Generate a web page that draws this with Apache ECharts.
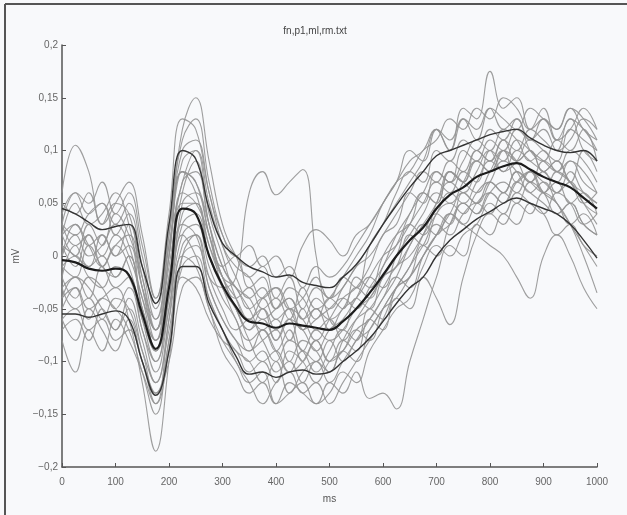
<!DOCTYPE html>
<html>
<head>
<meta charset="utf-8">
<script src="https://cdn.jsdelivr.net/npm/echarts@6/dist/echarts.min.js"></script>
<style>
html,body{margin:0;padding:0;background:#f8f9fb;}
#chart{width:627px;height:515px;}
</style>
</head>
<body>
<div id="chart"></div>
<script>
const chartTitle = 'fn,p1,ml,rm.txt';
const xName = 'ms';
const yName = 'mV';
const times = [0,25,50,75,100,125,150,175,200,225,250,275,300,325,350,375,400,425,450,475,500,525,550,575,600,625,650,675,700,725,750,775,800,825,850,875,900,925,950,975,1000];
const xTickLabels = ['0','100','200','300','400','500','600','700','800','900','1000'];
const yTickValues = [-0.2,-0.15,-0.1,-0.05,0,0.05,0.1,0.15,0.2];
const yTickLabels = ['\u22120,2','\u22120,15','\u22120,1','\u22120,05','0','0,05','0,1','0,15','0,2'];

const meanTrace = [-0.004,-0.006,-0.012,-0.014,-0.012,-0.018,-0.055,-0.088,-0.03,0.045,0.04,0.0,-0.028,-0.048,-0.062,-0.064,-0.068,-0.064,-0.066,-0.068,-0.07,-0.062,-0.05,-0.035,-0.018,0.0,0.015,0.027,0.045,0.058,0.065,0.075,0.08,0.085,0.088,0.082,0.075,0.07,0.065,0.055,0.045];
const upperTrace = [0.045,0.04,0.032,0.025,0.028,0.03,-0.01,-0.045,0.03,0.1,0.092,0.045,0.012,0.0,-0.01,-0.015,-0.02,-0.018,-0.025,-0.028,-0.03,-0.02,-0.008,0.01,0.03,0.048,0.065,0.08,0.095,0.1,0.105,0.11,0.115,0.118,0.12,0.112,0.105,0.1,0.098,0.1,0.09];
const lowerTrace = [-0.055,-0.055,-0.058,-0.055,-0.052,-0.06,-0.1,-0.132,-0.09,-0.01,-0.01,-0.045,-0.07,-0.095,-0.112,-0.11,-0.115,-0.11,-0.108,-0.112,-0.11,-0.1,-0.09,-0.078,-0.062,-0.045,-0.03,-0.02,0.0,0.015,0.025,0.035,0.042,0.05,0.055,0.05,0.045,0.04,0.03,0.015,-0.002];

const trial01 = [0.06,0.105,0.08,0.03,0.05,0.04,-0.02,-0.07,-0.01,0.07,0.08,0.03,-0.01,0.0,-0.03,-0.02,-0.05,-0.03,-0.04,-0.06,-0.04,-0.05,-0.02,-0.03,0.0,0.02,0.03,0.06,0.05,0.08,0.07,0.1,0.09,0.11,0.09,0.1,0.08,0.09,0.07,0.1,0.08];
const trial02 = [0.02,0.05,0.03,0.04,0.06,0.03,-0.03,-0.06,0.02,0.12,0.15,0.09,0.03,0.0,-0.02,-0.01,-0.04,-0.02,-0.05,-0.03,-0.04,-0.02,-0.03,0.01,0.03,0.05,0.07,0.09,0.12,0.1,0.13,0.11,0.14,0.12,0.13,0.11,0.12,0.1,0.13,0.12,0.1];
const trial03 = [-0.02,0.01,-0.01,0.0,-0.02,0.0,-0.05,-0.08,-0.03,0.03,0.02,-0.02,-0.03,-0.02,0.06,0.08,0.058,0.07,0.082,0.0,-0.06,-0.07,-0.04,-0.05,-0.02,-0.01,0.02,0.01,0.04,0.05,0.04,0.06,0.07,0.06,0.08,0.07,0.06,0.08,0.07,0.05,0.06];
const trial04 = [0.05,0.04,0.06,0.03,0.05,0.07,0.02,-0.04,0.04,0.13,0.12,0.06,0.02,0.0,0.01,-0.01,0.0,-0.02,0.01,0.025,0.015,0.0,0.02,0.03,0.05,0.07,0.09,0.1,0.12,0.11,0.13,0.12,0.14,0.13,0.12,0.14,0.13,0.12,0.14,0.13,0.11];
const trial05 = [-0.04,-0.03,-0.05,-0.04,-0.03,-0.06,-0.12,-0.185,-0.1,0.0,0.02,-0.03,-0.06,-0.08,-0.1,-0.09,-0.11,-0.1,-0.12,-0.1,-0.11,-0.09,-0.1,-0.07,-0.05,-0.03,-0.02,0.0,0.02,0.04,0.03,0.05,0.06,0.05,0.07,0.06,0.05,0.04,0.05,0.03,0.02];
const trial06 = [0.0,0.02,0.0,0.01,0.03,0.01,-0.04,-0.07,0.0,0.08,0.07,0.02,-0.02,-0.04,-0.03,-0.05,-0.04,-0.06,-0.03,-0.05,-0.04,-0.02,0.0,0.02,0.05,0.07,0.1,0.09,0.12,0.1,0.14,0.13,0.175,0.14,0.15,0.12,0.14,0.11,0.13,0.1,0.09];
const trial07 = [-0.06,-0.05,-0.07,-0.06,-0.08,-0.07,-0.1,-0.13,-0.08,0.0,-0.01,-0.05,-0.08,-0.1,-0.12,-0.11,-0.14,-0.12,-0.13,-0.14,-0.12,-0.13,-0.11,-0.135,-0.13,-0.145,-0.1,-0.06,-0.02,0.01,0.0,0.03,0.02,0.04,0.03,0.05,0.04,0.02,0.03,0.01,0.0];
const trial08 = [-0.03,-0.02,-0.04,-0.01,-0.03,-0.02,-0.07,-0.1,-0.04,0.03,0.04,0.0,-0.03,-0.06,-0.08,-0.07,-0.09,-0.07,-0.1,-0.08,-0.1,-0.08,-0.09,-0.06,-0.07,-0.04,-0.05,-0.02,-0.04,-0.065,-0.02,0.02,0.04,0.03,0.05,0.04,0.06,0.05,0.03,0.04,0.02];
const trial09 = [-0.01,0.0,-0.02,-0.03,-0.01,-0.02,-0.06,-0.09,-0.03,0.05,0.05,0.01,-0.02,-0.05,-0.07,-0.06,-0.08,-0.06,-0.09,-0.07,-0.08,-0.07,-0.05,-0.04,-0.02,-0.01,0.01,0.03,0.02,0.04,0.03,0.02,0.01,0.0,-0.02,-0.04,0.0,0.02,0.0,-0.03,-0.05];
const trial10 = [0.02,0.03,0.01,0.02,0.0,0.01,-0.05,-0.08,0.0,0.08,0.06,0.01,-0.02,-0.03,-0.05,-0.04,-0.06,-0.05,-0.07,-0.06,-0.05,-0.04,-0.05,-0.03,-0.01,0.02,0.04,0.06,0.05,0.08,0.07,0.09,0.08,0.1,0.07,0.08,0.06,0.05,0.03,0.0,-0.035];
const trial11 = [-0.08,-0.11,-0.07,-0.09,-0.06,-0.08,-0.11,-0.14,-0.09,-0.02,-0.03,-0.06,-0.08,-0.09,-0.11,-0.1,-0.12,-0.09,-0.1,-0.12,-0.1,-0.09,-0.07,-0.08,-0.05,-0.03,-0.01,0.01,0.03,0.02,0.04,0.05,0.04,0.06,0.05,0.07,0.06,0.04,0.05,0.03,0.02];
const trial12 = [0.03,0.06,0.04,0.05,0.03,0.05,0.0,-0.05,0.02,0.1,0.11,0.06,0.01,-0.02,-0.04,-0.03,-0.05,-0.04,-0.06,-0.04,-0.05,-0.03,-0.01,0.01,0.03,0.06,0.08,0.07,0.1,0.09,0.11,0.1,0.12,0.11,0.13,0.1,0.09,0.11,0.1,0.12,0.09];
const trial13 = [-0.02,-0.04,-0.02,-0.03,-0.05,-0.03,-0.07,-0.11,-0.05,0.02,0.03,-0.01,-0.04,-0.06,-0.09,-0.08,-0.07,-0.1,-0.08,-0.09,-0.11,-0.08,-0.06,-0.05,-0.03,-0.01,0.0,0.02,0.04,0.06,0.05,0.07,0.09,0.08,0.1,0.09,0.08,0.07,0.09,0.08,0.06];
const trial14 = [0.01,-0.01,0.02,0.0,0.02,0.0,-0.04,-0.09,-0.02,0.06,0.09,0.03,-0.01,-0.03,-0.05,-0.07,-0.06,-0.08,-0.05,-0.07,-0.06,-0.08,-0.06,-0.04,-0.02,0.0,0.03,0.02,0.05,0.07,0.06,0.08,0.1,0.09,0.11,0.1,0.09,0.08,0.1,0.09,0.07];
const trial15 = [-0.05,-0.03,-0.06,-0.04,-0.05,-0.07,-0.11,-0.15,-0.08,-0.01,0.0,-0.04,-0.07,-0.09,-0.1,-0.12,-0.1,-0.13,-0.11,-0.1,-0.12,-0.1,-0.08,-0.06,-0.04,-0.02,-0.03,0.0,0.02,0.03,0.05,0.04,0.06,0.05,0.07,0.08,0.06,0.07,0.05,0.06,0.04];
const trial16 = [0.03,0.02,0.04,0.05,0.02,0.04,-0.01,-0.06,0.01,0.09,0.1,0.05,0.01,-0.01,-0.02,-0.04,-0.03,-0.05,-0.04,-0.02,-0.04,-0.03,-0.01,0.0,0.02,0.04,0.06,0.08,0.07,0.09,0.08,0.1,0.09,0.11,0.1,0.12,0.11,0.1,0.11,0.13,0.12];
const trial17 = [-0.03,-0.05,-0.04,-0.06,-0.04,-0.05,-0.09,-0.12,-0.06,0.01,0.02,-0.02,-0.05,-0.07,-0.06,-0.08,-0.1,-0.08,-0.09,-0.11,-0.09,-0.07,-0.08,-0.05,-0.06,-0.03,-0.02,0.01,0.0,0.03,0.05,0.04,0.06,0.07,0.06,0.08,0.07,0.06,0.08,0.06,0.05];
const trial18 = [0.0,0.03,0.01,-0.01,0.01,-0.01,-0.06,-0.1,-0.04,0.04,0.05,0.0,-0.03,-0.05,-0.07,-0.05,-0.08,-0.06,-0.07,-0.09,-0.07,-0.06,-0.04,-0.02,-0.03,0.0,0.02,0.04,0.06,0.05,0.07,0.09,0.08,0.1,0.09,0.07,0.08,0.06,0.07,0.05,0.04];
const trial19 = [-0.01,-0.02,0.01,-0.01,-0.02,0.0,-0.05,-0.09,-0.05,0.05,0.06,0.02,-0.03,-0.05,-0.08,-0.1,-0.09,-0.11,-0.1,-0.08,-0.1,-0.09,-0.07,-0.06,-0.04,-0.02,0.01,0.03,0.05,0.08,0.07,0.06,0.08,0.1,0.09,0.1,0.08,0.09,0.07,0.06,0.05];
const trial20 = [0.04,0.06,0.05,0.07,0.04,0.06,0.01,-0.04,0.03,0.11,0.13,0.07,0.02,0.0,-0.01,0.0,-0.02,-0.01,-0.03,-0.01,-0.02,-0.01,0.01,0.03,0.05,0.07,0.08,0.1,0.11,0.13,0.12,0.14,0.13,0.15,0.14,0.12,0.13,0.11,0.12,0.14,0.12];
const trial21 = [-0.07,-0.06,-0.08,-0.05,-0.07,-0.05,-0.09,-0.13,-0.1,-0.03,-0.02,-0.05,-0.09,-0.11,-0.13,-0.12,-0.14,-0.13,-0.12,-0.14,-0.13,-0.11,-0.12,-0.09,-0.07,-0.05,-0.04,-0.01,0.01,0.0,0.02,0.03,0.05,0.04,0.06,0.05,0.04,0.06,0.05,0.03,0.04];
const trial22 = [0.01,0.0,-0.01,0.02,0.0,0.03,-0.03,-0.08,0.0,0.08,0.07,0.03,-0.01,-0.03,-0.04,-0.06,-0.05,-0.04,-0.06,-0.05,-0.07,-0.05,-0.04,-0.02,0.0,0.01,0.03,0.05,0.07,0.06,0.08,0.07,0.1,0.08,0.09,0.11,0.1,0.09,0.12,0.11,0.1];
const trial23 = [-0.04,-0.02,-0.03,-0.05,-0.07,-0.04,-0.08,-0.12,-0.07,0.0,0.01,-0.03,-0.06,-0.08,-0.09,-0.07,-0.09,-0.11,-0.09,-0.1,-0.08,-0.1,-0.08,-0.07,-0.05,-0.04,-0.02,0.0,0.02,0.04,0.06,0.05,0.07,0.06,0.08,0.07,0.09,0.08,0.07,0.05,0.03];
const trial24 = [0.02,0.0,0.03,0.01,0.04,0.02,-0.02,-0.07,0.01,0.07,0.1,0.04,0.0,-0.04,-0.06,-0.05,-0.07,-0.05,-0.06,-0.08,-0.06,-0.04,-0.03,-0.01,0.02,0.03,0.06,0.05,0.08,0.07,0.09,0.11,0.1,0.12,0.11,0.09,0.1,0.08,0.09,0.07,0.06];
const trial25 = [-0.06,-0.08,-0.05,-0.07,-0.09,-0.06,-0.1,-0.14,-0.06,0.02,0.0,-0.04,-0.07,-0.1,-0.12,-0.14,-0.12,-0.11,-0.13,-0.12,-0.14,-0.12,-0.1,-0.08,-0.06,-0.03,-0.01,0.02,0.04,0.03,0.06,0.05,0.07,0.09,0.08,0.06,0.07,0.05,0.03,0.01,-0.01];
const trial26 = [0.03,0.01,0.02,-0.01,0.01,0.02,-0.03,-0.07,-0.02,0.06,0.05,0.02,-0.02,-0.04,-0.06,-0.04,-0.03,-0.05,-0.07,-0.05,-0.06,-0.05,-0.03,-0.04,-0.01,0.01,0.04,0.06,0.08,0.07,0.1,0.09,0.11,0.1,0.12,0.11,0.13,0.12,0.14,0.12,0.11];

const trials = [trial01,trial02,trial03,trial04,trial05,trial06,trial07,trial08,trial09,trial10,trial11,trial12,trial13,trial14,trial15,trial16,trial17,trial18,trial19,trial20,trial21,trial22,trial23,trial24,trial25,trial26];

const toPairs = arr => times.map((t, i) => [t, arr[i]]);
const FONT = 'Liberation Sans';

const series = [];
trials.forEach((tr) => {
  series.push({
    type: 'line', data: toPairs(tr), smooth: 0.45, symbol: 'none', silent: true,
    lineStyle: { color: '#949494', width: 1.1, opacity: 0.9 }, z: 2
  });
});
[[upperTrace, 1.4, '#333333'], [lowerTrace, 1.4, '#333333'], [meanTrace, 2.2, '#1c1c1c']].forEach(([arr, w, c]) => {
  series.push({
    type: 'line', data: toPairs(arr), smooth: 0.45, symbol: 'none', silent: true,
    lineStyle: { color: c, width: w }, z: 5
  });
});

const chart = echarts.init(document.getElementById('chart'), null, { renderer: 'canvas' });
chart.setOption({
  backgroundColor: '#f8f9fb',
  animation: false,
  title: {
    text: chartTitle, left: 310, top: 21, textAlign: 'center',
    textStyle: { fontFamily: FONT, fontSize: 10, fontWeight: 'normal', color: '#444' }
  },
  grid: { left: 62, right: 30, top: 45, bottom: 48 },
  xAxis: {
    type: 'value', min: 0, max: 1000, interval: 100,
    name: xName, nameLocation: 'middle', nameGap: 27,
    nameTextStyle: { fontFamily: FONT, fontSize: 10, color: '#555' },
    axisLine: { onZero: false, lineStyle: { color: '#555', width: 1.5 } },
    axisTick: { inside: true, length: 4, lineStyle: { color: '#555' } },
    axisLabel: {
      fontFamily: FONT, fontSize: 10, color: '#666', margin: 10,
      formatter: v => xTickLabels[Math.round(v / 100)] || ''
    },
    splitLine: { show: false }
  },
  yAxis: {
    type: 'value', min: -0.2, max: 0.2, interval: 0.05,
    name: yName, nameLocation: 'middle', nameGap: 41, nameRotate: 90,
    nameTextStyle: { fontFamily: FONT, fontSize: 10, color: '#555' },
    axisLine: { onZero: false, lineStyle: { color: '#555', width: 1.5 } },
    axisTick: { inside: true, length: 4, lineStyle: { color: '#555' } },
    axisLabel: {
      fontFamily: FONT, fontSize: 10, color: '#666', margin: 4,
      formatter: v => {
        const i = yTickValues.findIndex(t => Math.abs(t - v) < 1e-9);
        return i >= 0 ? yTickLabels[i] : '';
      }
    },
    splitLine: { show: false }
  },
  graphic: [
    { type: 'line', shape: { x1: 5, y1: 4, x2: 627, y2: 4 }, style: { stroke: '#555', lineWidth: 2 }, silent: true },
    { type: 'line', shape: { x1: 5, y1: 4, x2: 5, y2: 515 }, style: { stroke: '#555', lineWidth: 2 }, silent: true }
  ],
  series: series
});
</script>
</body>
</html>
